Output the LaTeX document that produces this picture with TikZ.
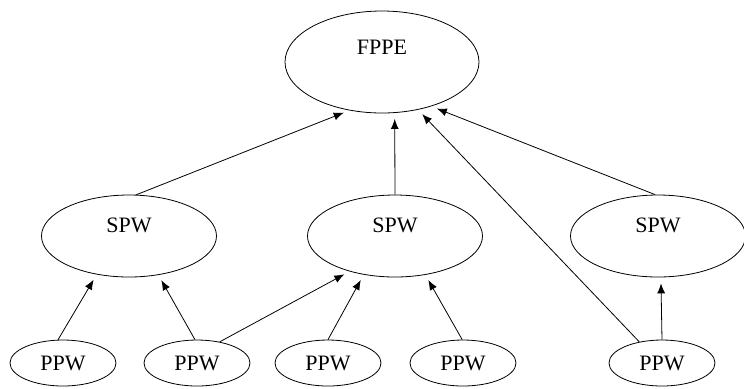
\documentclass[tikz,border=0pt]{standalone}
\usepackage{fontspec}
\setmainfont{Liberation Serif}
\usepackage{tikz}
\usetikzlibrary{arrows.meta}
\usetikzlibrary{shapes.geometric}
\usetikzlibrary{positioning}

\begin{document}
\begin{tikzpicture}
    \tikzstyle{every node}=[draw=black,ellipse,inner sep=0pt,font=\fontsize{11}{13}\selectfont,on grid]
    \tikzstyle{topnode}=[minimum width=97pt,minimum height=51pt,text depth=15pt]
    \tikzstyle{spwnode}=[minimum width=87.5pt,minimum height=41pt,text depth=11pt]
    \tikzstyle{ppwnode}=[minimum width=53pt,minimum height=23pt]
    \tikzstyle{arr}=[draw=black,-{Latex[length=5pt,width=4pt]},shorten >=3pt]

    \useasboundingbox (-191pt,-163pt) rectangle (181pt,31pt);

    \node[topnode] (fppe) at (0,0) {FPPE} ;

    \node[spwnode,below=87pt of fppe,xshift=6.5pt] (spwb) {SPW} ;
    \node[spwnode,left=133pt of spwb] (spwa) {SPW} ;
    \node[spwnode,right=131.5pt of spwb] (spwc) {SPW} ;

    \node[ppwnode,below=63.5pt of spwa,xshift=-33pt] (ppwa) {PPW} ;
    \node[ppwnode,below=63.5pt of spwa,xshift=34pt] (ppwb) {PPW} ;
    \node[ppwnode,below=63.5pt of spwb,xshift=-33.5pt] (ppwc) {PPW} ;
    \node[ppwnode,below=63.5pt of spwb,xshift=34pt] (ppwd) {PPW} ;
    \node[ppwnode,below=63.5pt of spwc,xshift=2pt] (ppwe) {PPW} ;

    \draw[arr] (ppwa.102) -- (spwa.230) ;
    \draw[arr] (ppwb.95) -- (spwa.307) ;
    \draw[arr] (ppwb.43) -- (spwb.218) ;
    \draw[arr] (ppwc.90) -- (spwb.231) ;
    \draw[arr] (ppwd.92) -- (spwb.308) ;
    \draw[arr] (ppwe.90) -- (spwc.274) ;
    \draw[arr] (ppwe.137) -- (fppe.307) ;

    \draw[arr] (spwa.80) -- (fppe.236) ;
    \draw[arr] (spwb.90) -- (fppe.284) ;
    \draw[arr] (spwc.94) -- (fppe.318) ;

\end{tikzpicture}
\end{document}
